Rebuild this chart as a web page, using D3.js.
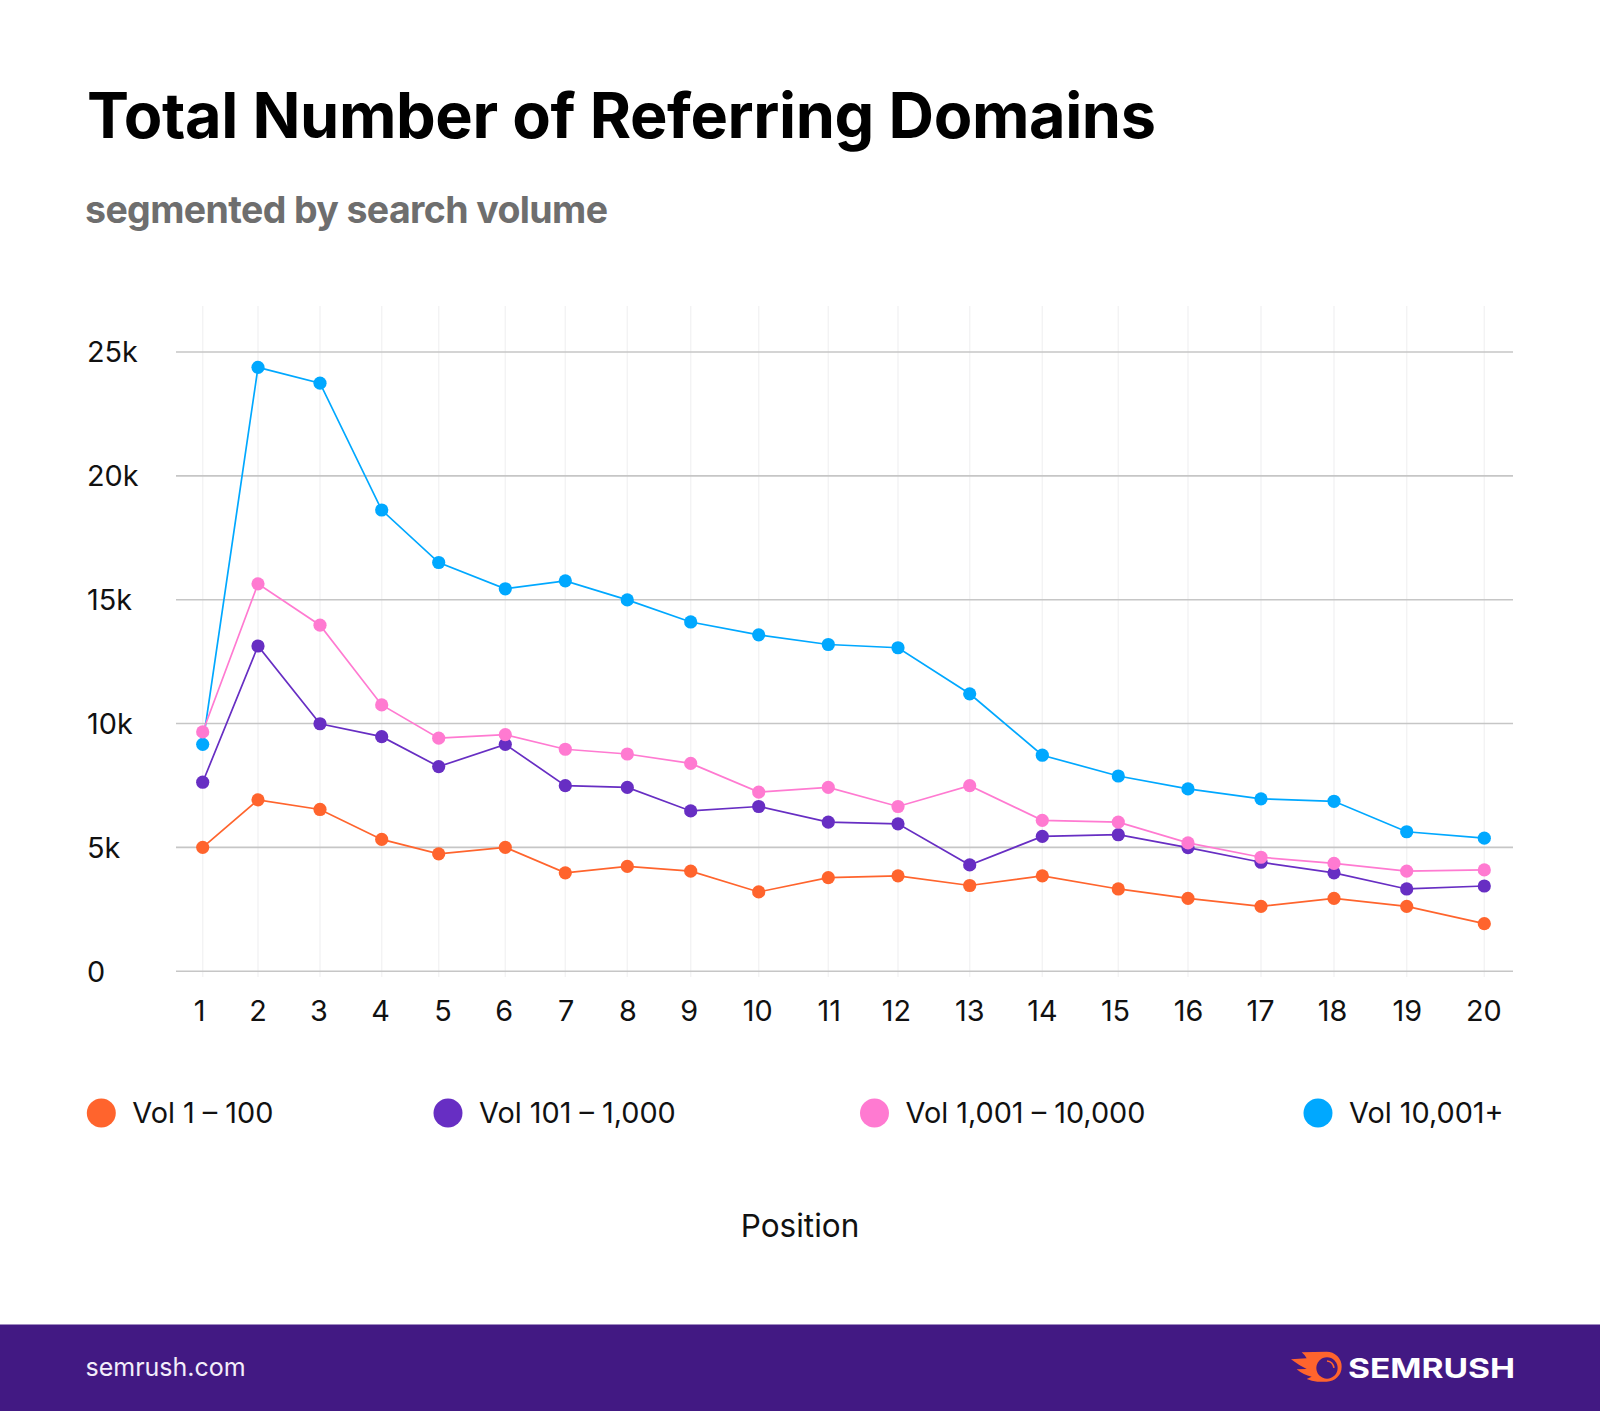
<!DOCTYPE html>
<html>
<head>
<meta charset="utf-8">
<script src="https://cdnjs.cloudflare.com/ajax/libs/d3/7.8.5/d3.min.js"></script>
<style>
  html, body { margin: 0; padding: 0; background: #fff; }
  svg { display: block; font-family: Inter, sans-serif; }
</style>
</head>
<body>
<svg id="chart"></svg>
<script>
const positions = [1, 2, 3, 4, 5, 6, 7, 8, 9, 10, 11, 12, 13, 14, 15, 16, 17, 18, 19, 20];

// thousands of referring domains
const vol1to100 = [4.98, 6.9, 6.51, 5.3, 4.72, 4.98, 3.95, 4.21, 4.02, 3.18, 3.76, 3.83, 3.44, 3.83, 3.3, 2.92, 2.6, 2.92, 2.6, 1.9];
const vol101to1000 = [7.61, 13.11, 9.97, 9.45, 8.24, 9.14, 7.47, 7.4, 6.45, 6.63, 6.0, 5.93, 4.27, 5.42, 5.49, 4.97, 4.38, 3.95, 3.3, 3.42];
const vol1001to10000 = [9.64, 15.62, 13.95, 10.73, 9.39, 9.53, 8.94, 8.75, 8.37, 7.21, 7.4, 6.63, 7.47, 6.07, 6.0, 5.16, 4.58, 4.33, 4.02, 4.07];
const vol10001plus = [9.14, 24.36, 23.72, 18.6, 16.48, 15.42, 15.74, 14.97, 14.08, 13.56, 13.17, 13.04, 11.18, 8.7, 7.86, 7.34, 6.94, 6.84, 5.61, 5.35];

const seriesNames = ['Vol 1 – 100', 'Vol 101 – 1,000', 'Vol 1,001 – 10,000', 'Vol 10,001+'];
const seriesValues = [vol1to100, vol101to1000, vol1001to10000, vol10001plus];
const seriesColors = ['#ff642d', '#672ec3', '#ff7ad1', '#00a8ff'];
const yTicks = [0, 5, 10, 15, 20, 25];

// the source spaces its columns unevenly, so the x scales are ordinal
const xStops = [202.7, 258, 320, 381.7, 438.7, 505.3, 565.3, 627.3, 690.7, 758.7, 828.3, 898, 969.7, 1042.3, 1118.3, 1188, 1261, 1334, 1406.7, 1484.3];
const xLabelStops = [199, 257.5, 318.3, 380, 442.5, 503.7, 565.7, 627.3, 688.7, 757.3, 828.7, 896, 969.3, 1042, 1115, 1188, 1260, 1332, 1406.7, 1483.3];
const legendDots = [101.3, 448, 874.5, 1318];

const width = 1600;
const height = 1411;
const gridLeft = 176;
const gridRight = 1513;

const svg = d3.select('#chart').attr('width', width).attr('height', height);

const x = d3.scaleOrdinal().domain(positions).range(xStops);
const xLabel = d3.scaleOrdinal().domain(positions).range(xLabelStops);
const y = d3.scaleLinear().domain([0, 25]).range([970.7, 351.5]);

// title block
svg.append('text')
  .attr('x', 87).attr('y', 137.5)
  .attr('textLength', 1069).attr('lengthAdjust', 'spacing')
  .attr('font-size', 63).attr('font-weight', 700).attr('fill', '#000')
  .text('Total Number of Referring Domains');

svg.append('text')
  .attr('x', 85).attr('y', 223)
  .attr('textLength', 523).attr('lengthAdjust', 'spacing')
  .attr('font-size', 37.5).attr('font-weight', 700).attr('fill', '#6e6e6e')
  .text('segmented by search volume');

// vertical grid
svg.append('g')
  .selectAll('line')
  .data(positions)
  .join('line')
  .attr('x1', d => x(d)).attr('x2', d => x(d))
  .attr('y1', 306).attr('y2', 977)
  .attr('stroke', '#f3f3f4').attr('stroke-width', 1.5);

// y axis, gridlines are the ticks
const yAxis = svg.append('g')
  .attr('transform', `translate(${gridLeft},0)`)
  .call(d3.axisLeft(y)
    .tickValues(yTicks)
    .tickSize(gridLeft - gridRight)
    .tickFormat(d => d === 0 ? '0' : `${d}k`));
yAxis.select('.domain').remove();
yAxis.selectAll('line').attr('stroke', '#c6c6c6').attr('stroke-width', 1.6);
yAxis.selectAll('text')
  .attr('x', 87 - gridLeft).attr('dy', '0.36em')
  .attr('text-anchor', 'start')
  .attr('font-family', 'Inter, sans-serif')
  .attr('font-size', 28.8).attr('fill', '#111');

// x axis labels
const xAxis = svg.append('g')
  .attr('transform', 'translate(0,970.7)')
  .call(d3.axisBottom(xLabel).tickValues(positions).tickSize(0));
xAxis.select('.domain').remove();
xAxis.selectAll('text')
  .attr('y', 50.5).attr('dy', 0)
  .attr('font-family', 'Inter, sans-serif')
  .attr('font-size', 28.8).attr('fill', '#111');

// series
const line = d3.line()
  .x((d, i) => x(positions[i]))
  .y(d => y(d));

const drawOrder = [0, 3, 1, 2];
drawOrder.forEach(s => {
  const g = svg.append('g');
  g.append('path')
    .datum(seriesValues[s])
    .attr('d', line)
    .attr('fill', 'none')
    .attr('stroke', seriesColors[s])
    .attr('stroke-width', 1.7);
  g.selectAll('circle')
    .data(seriesValues[s])
    .join('circle')
    .attr('cx', (d, i) => x(positions[i]))
    .attr('cy', d => y(d))
    .attr('r', 6.6)
    .attr('fill', seriesColors[s]);
});

// legend
const legend = svg.append('g')
  .selectAll('g')
  .data(seriesNames)
  .join('g')
  .attr('transform', (d, i) => `translate(${legendDots[i]},1113)`);
legend.append('circle')
  .attr('r', 14.5)
  .attr('fill', (d, i) => seriesColors[i]);
legend.append('text')
  .attr('x', 31).attr('y', 9.5)
  .attr('font-size', 28.8).attr('fill', '#111')
  .text(d => d);

svg.append('text')
  .attr('x', 800).attr('y', 1236.5)
  .attr('text-anchor', 'middle')
  .attr('font-size', 31.5).attr('fill', '#111')
  .text('Position');

// footer band
svg.append('rect')
  .attr('x', 0).attr('y', 1324.5)
  .attr('width', width).attr('height', height - 1324.5)
  .attr('fill', '#421983');

svg.append('text')
  .attr('x', 85.5).attr('y', 1376)
  .attr('font-size', 25).attr('fill', '#f3edfa')
  .text('semrush.com');

const logo = svg.append('g').attr('transform', 'translate(1200,1300) scale(0.3333)');
logo.append('path')
  .attr('d', 'M305,157 L380,155 A45,45 0 1 1 380,245 L352,245 Q335,243 320,237 L335,230 Q310,225 290,208 L320,207 Q295,195 273,178 L320,175 Q315,165 305,157 Z')
  .attr('fill', '#ff642d');
logo.append('circle')
  .attr('cx', 381).attr('cy', 204).attr('r', 32)
  .attr('fill', '#421983');
logo.append('path')
  .attr('d', 'M381,183 Q399,185 402,204')
  .attr('fill', 'none').attr('stroke', '#ff642d').attr('stroke-width', 5);

svg.append('text')
  .attr('x', 1348).attr('y', 1377.5)
  .attr('textLength', 167).attr('lengthAdjust', 'spacingAndGlyphs')
  .attr('font-size', 27.5).attr('font-weight', 700).attr('fill', '#fff')
  .text('SEMRUSH');
</script>
</body>
</html>
